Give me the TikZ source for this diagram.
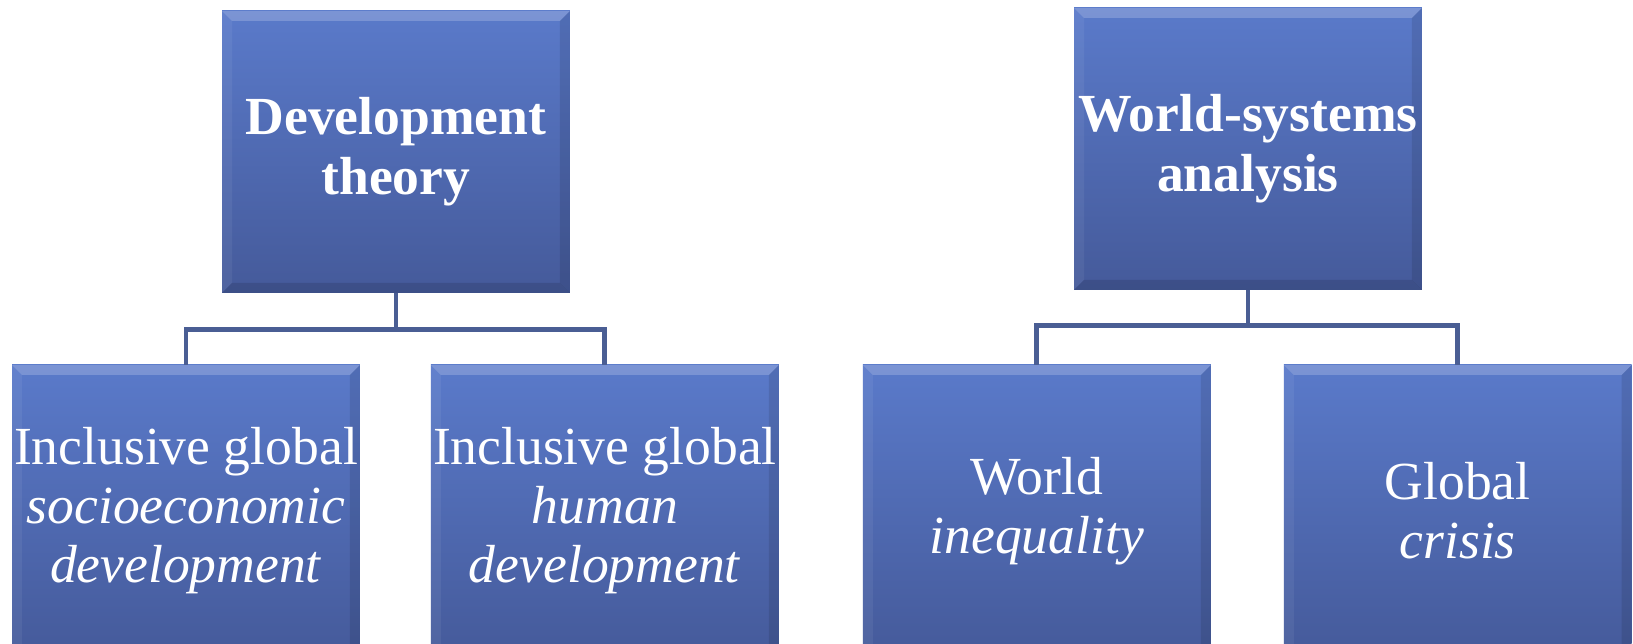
\documentclass[tikz,border=0pt]{standalone}
\usepackage{fontspec}
\setmainfont{Liberation Serif}
\usetikzlibrary{positioning}

\definecolor{boxtop}{RGB}{90,122,202}
\definecolor{boxbot}{RGB}{69,90,154}
\definecolor{linkcol}{RGB}{74,94,148}

\begin{document}
\begin{tikzpicture}[
                                x=0.02cm, y=-0.02cm,
                                every node/.style={inner sep=0pt, outer sep=0pt},
                                theory/.style={
                                    rectangle,
                                    minimum width=6.96cm, minimum height=5.64cm,
                                    top color=boxtop, bottom color=boxbot,
                                    text=white, align=center,
                                    path picture={
                                        \fill[white, fill opacity=.2]
                                            (path picture bounding box.north west) -- (path picture bounding box.north east)
                                            -- ([xshift=-2mm, yshift=-2mm]path picture bounding box.north east)
                                            -- ([xshift=2mm, yshift=-2mm]path picture bounding box.north west) -- cycle;
                                        \fill[black, fill opacity=.1]
                                            (path picture bounding box.north east) -- (path picture bounding box.south east)
                                            -- ([xshift=-2mm, yshift=2mm]path picture bounding box.south east)
                                            -- ([xshift=-2mm, yshift=-2mm]path picture bounding box.north east) -- cycle;
                                        \fill[black, fill opacity=.12]
                                            (path picture bounding box.south west) -- (path picture bounding box.south east)
                                            -- ([xshift=-2mm, yshift=2mm]path picture bounding box.south east)
                                            -- ([xshift=2mm, yshift=2mm]path picture bounding box.south west) -- cycle;
                                        \fill[white, fill opacity=.06]
                                            (path picture bounding box.north west) -- (path picture bounding box.south west)
                                            -- ([xshift=2mm, yshift=2mm]path picture bounding box.south west)
                                            -- ([xshift=2mm, yshift=-2mm]path picture bounding box.north west) -- cycle;
                                        }
                                    },
                                head/.style={
                                    theory,
                                    font=\fontsize{30.5}{34}\selectfont\bfseries
                                    },
                                topic/.style={
                                    theory, minimum height=5.84cm,
                                    font=\fontsize{30.5}{33.5}\selectfont
                                    },
                                link/.style={
                                    draw=linkcol, line width=2.8pt
                                    }
                                ]
                            \useasboundingbox[fill=white] (0,0) rectangle (1633,644);
                            \node [head, anchor=north west] (dev) at (222,11) {Development\\theory};
                            \node [head, anchor=north west] (wsa) at (1074,8) {World-systems\\analysis};

                            \node [topic, anchor=north west] (soc) at (12,365) {Inclusive global\\\textit{socioeconomic}\\\textit{development}};
                            \node [topic, right=1.42cm of soc] (hum) {Inclusive global\\\textit{human}\\\textit{development}};
                            \node [topic, right=1.68cm of hum] (ineq) {World\\\textit{inequality}};
                            \node [topic, right=1.46cm of ineq] (cris) {Global\\\textit{crisis}};

                            \path (dev.south) ++(0,37) coordinate (devfork);
                            \path (wsa.south) ++(0,36) coordinate (wsafork);
                            \draw [link] (dev.south) -- (devfork) -| (soc.north);
                            \draw [link] (devfork) -| (hum.north);
                            \draw [link] (wsa.south) -- (wsafork) -| (ineq.north);
                            \draw [link] (wsafork) -| (cris.north);
                        \end{tikzpicture}
\end{document}
